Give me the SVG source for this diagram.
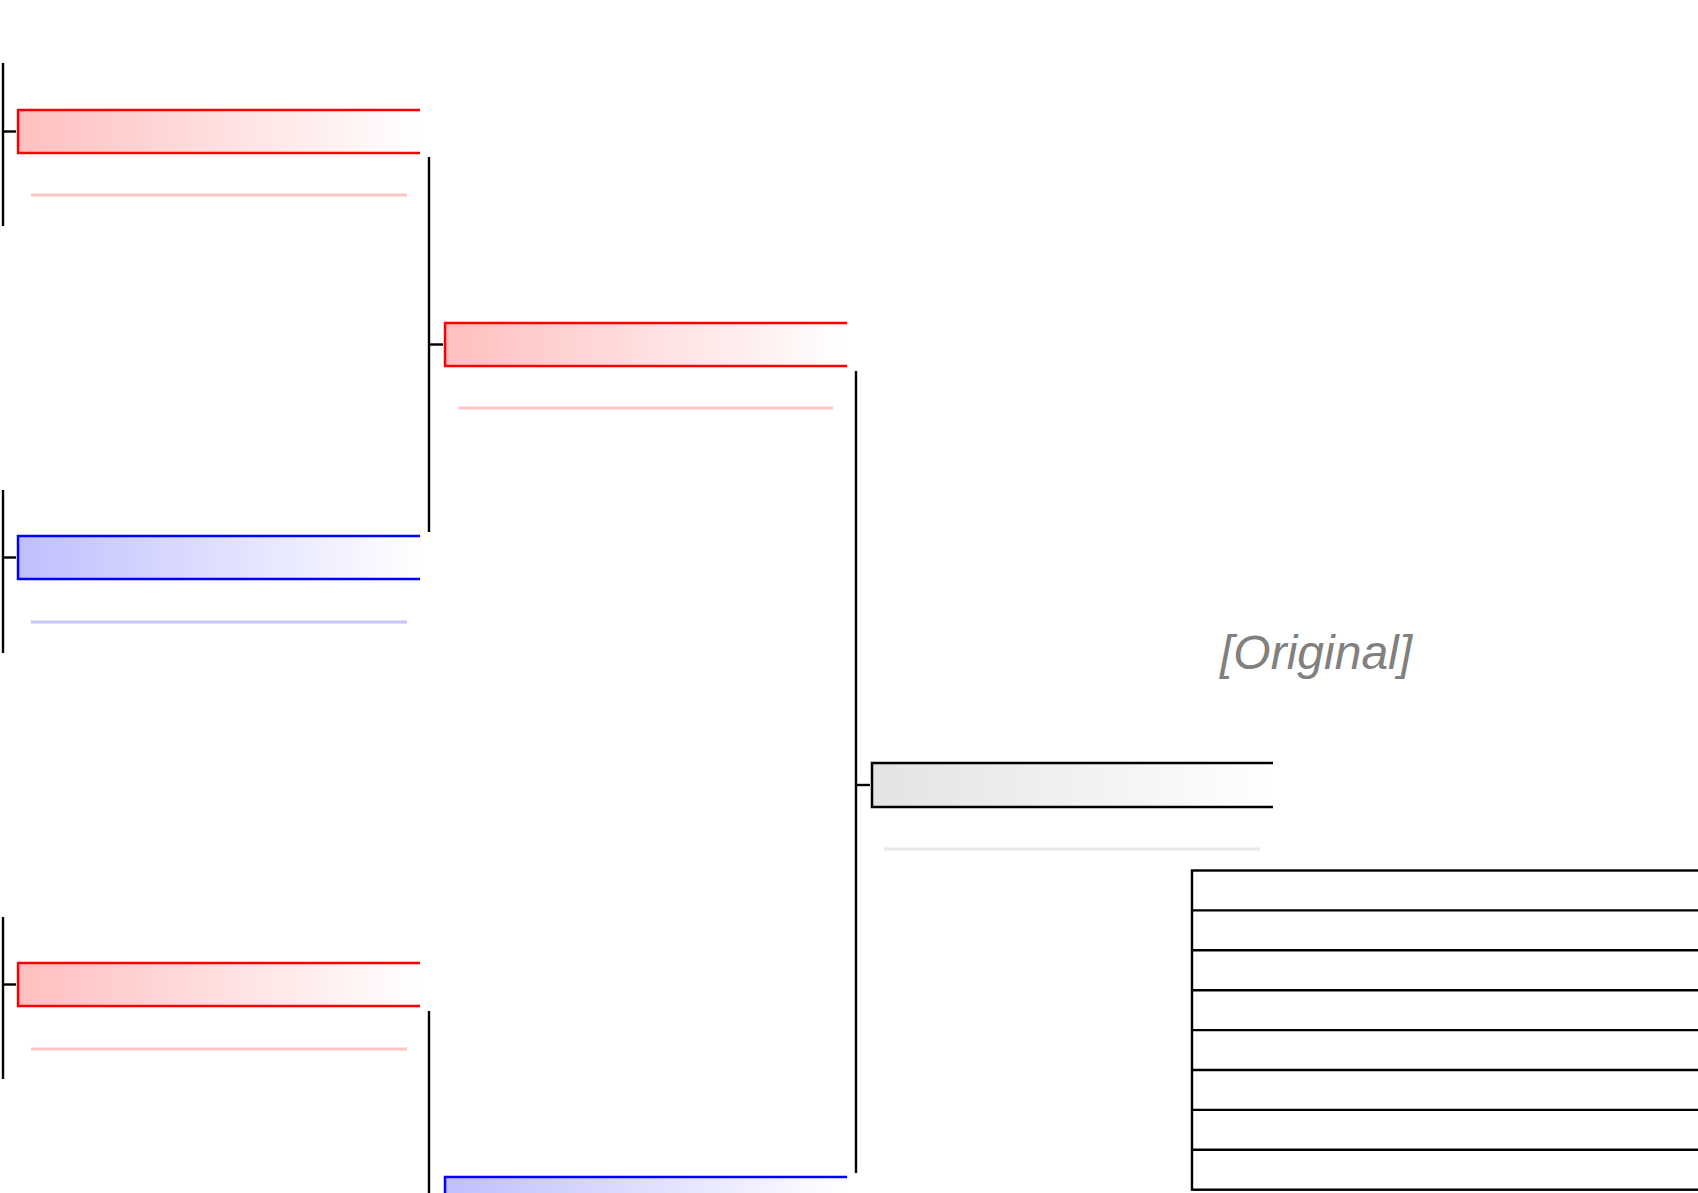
<svg xmlns="http://www.w3.org/2000/svg" width="1698" height="1193" viewBox="0 0 1698 1193">
<defs>
<linearGradient id="gRed" x1="0" y1="0" x2="1" y2="0"><stop offset="0" stop-color="#ffbfbf"/><stop offset="1" stop-color="#ffffff"/></linearGradient>
<linearGradient id="gBlue" x1="0" y1="0" x2="1" y2="0"><stop offset="0" stop-color="#bfbfff"/><stop offset="1" stop-color="#ffffff"/></linearGradient>
<linearGradient id="gGray" x1="0" y1="0" x2="1" y2="0"><stop offset="0" stop-color="#e3e3e3"/><stop offset="1" stop-color="#ffffff"/></linearGradient>
</defs>
<style>
.conn line{stroke:#000;stroke-width:2.4;fill:none}
.edge{fill:none;stroke-width:2.5}
.red .edge{stroke:#ff0000}
.blue .edge{stroke:#0000ff}
.gray .edge{stroke:#000}
.red .bg{fill:url(#gRed)}
.blue .bg{fill:url(#gBlue)}
.gray .bg{fill:url(#gGray)}
.pale{stroke-width:3}
.red .pale{stroke:#ffc4c4}
.blue .pale{stroke:#c4c4ff}
.gray .pale{stroke:#e8e8e8}
.tbl line,.tbl rect{stroke:#000;stroke-width:2.4;fill:none}
.label{font-family:"Liberation Sans",Arial,sans-serif;font-style:italic;font-size:48px;fill:#808080}
</style>
<g id="connectors" class="conn">
<line x1="3" y1="63" x2="3" y2="226"/>
<line x1="3" y1="490" x2="3" y2="653"/>
<line x1="3" y1="917" x2="3" y2="1079"/>
<line x1="2" y1="131.5" x2="16" y2="131.5"/>
<line x1="2" y1="557.5" x2="16" y2="557.5"/>
<line x1="2" y1="984.5" x2="16" y2="984.5"/>
<line x1="429" y1="157" x2="429" y2="532"/>
<line x1="429" y1="1011" x2="429" y2="1193"/>
<line x1="428" y1="344.5" x2="443" y2="344.5"/>
<line x1="856" y1="371" x2="856" y2="1173"/>
<line x1="855" y1="785" x2="870" y2="785"/>
</g>
<g id="n1" class="red">
<rect class="bg" x="18" y="110" width="402" height="43"/>
<path class="edge" d="M420,110 H18 V153 H420"/>
<line class="pale" x1="31" y1="195" x2="407" y2="195"/>
</g>
<g id="n2" class="blue">
<rect class="bg" x="18" y="536" width="402" height="43"/>
<path class="edge" d="M420,536 H18 V579 H420"/>
<line class="pale" x1="31" y1="622" x2="407" y2="622"/>
</g>
<g id="n3" class="red">
<rect class="bg" x="18" y="963" width="402" height="43"/>
<path class="edge" d="M420,963 H18 V1006 H420"/>
<line class="pale" x1="31" y1="1049" x2="407" y2="1049"/>
</g>
<g id="n4" class="red">
<rect class="bg" x="445" y="323" width="402" height="43"/>
<path class="edge" d="M847,323 H445 V366 H847"/>
<line class="pale" x1="458" y1="408" x2="833" y2="408"/>
</g>
<g id="n5" class="blue">
<rect class="bg" x="445" y="1177" width="402" height="43"/>
<path class="edge" d="M847,1177 H445 V1220 H847"/>
</g>
<g id="n6" class="gray">
<rect class="bg" x="872" y="763" width="401" height="44"/>
<path class="edge" d="M1273,763 H872 V807 H1273"/>
<line class="pale" x1="884" y1="849" x2="1260" y2="849"/>
</g>
<g id="label">
<text class="label" x="1220" y="669">[Original]</text>
</g>
<g id="table" class="tbl">
<rect x="1192" y="870.5" width="520" height="319.2"/>
<line x1="1192" y1="910.4" x2="1700" y2="910.4"/>
<line x1="1192" y1="950.3" x2="1700" y2="950.3"/>
<line x1="1192" y1="990.2" x2="1700" y2="990.2"/>
<line x1="1192" y1="1030.1" x2="1700" y2="1030.1"/>
<line x1="1192" y1="1070" x2="1700" y2="1070"/>
<line x1="1192" y1="1109.9" x2="1700" y2="1109.9"/>
<line x1="1192" y1="1149.8" x2="1700" y2="1149.8"/>
</g>
</svg>
